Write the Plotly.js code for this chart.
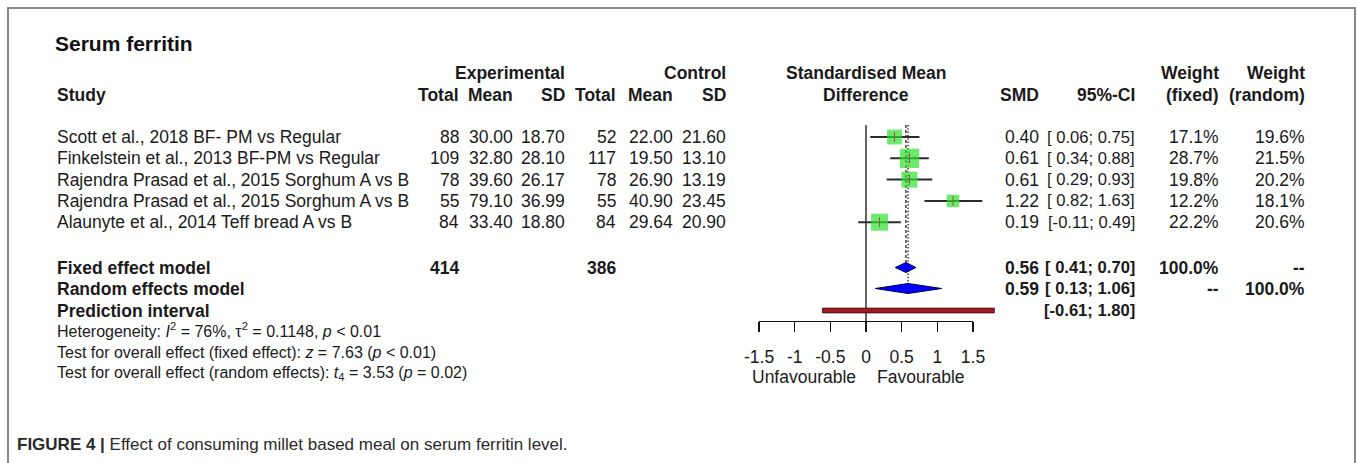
<!DOCTYPE html>
<html><head><meta charset="utf-8">
<script src="https://cdn.plot.ly/plotly-3.0.1.min.js"></script>
<style>html,body{margin:0;padding:0;background:#fff;}#chart{width:1357px;height:463px;}</style>
</head><body><div id="chart"></div>
<script>
// ---------- data ----------
const studies = [
  "Scott et al., 2018 BF- PM vs Regular",
  "Finkelstein et al., 2013 BF-PM vs Regular",
  "Rajendra Prasad et al., 2015 Sorghum A vs B",
  "Rajendra Prasad et al., 2015 Sorghum A vs B",
  "Alaunyte et al., 2014 Teff bread A vs B"
];
const expTotal = [88, 109, 78, 55, 84];
const expMean  = [30.00, 32.80, 39.60, 79.10, 33.40];
const expSD    = [18.70, 28.10, 26.17, 36.99, 18.80];
const ctlTotal = [52, 117, 78, 55, 84];
const ctlMean  = [22.00, 19.50, 26.90, 40.90, 29.64];
const ctlSD    = [21.60, 13.10, 13.19, 23.45, 20.90];
const smd      = [0.40, 0.61, 0.61, 1.22, 0.19];
const ciLow    = [0.06, 0.34, 0.29, 0.82, -0.11];
const ciHigh   = [0.75, 0.88, 0.93, 1.63, 0.49];
const wFixed   = [17.1, 28.7, 19.8, 12.2, 22.2];
const wRandom  = [19.6, 21.5, 20.2, 18.1, 20.6];
const totalExp = 414, totalCtl = 386;
const fixedEst = 0.56, fixedLow = 0.41, fixedHigh = 0.70;
const randomEst = 0.59, randomLow = 0.13, randomHigh = 1.06;
const predLow = -0.61, predHigh = 1.80;
const tickVals = [-1.5, -1, -0.5, 0, 0.5, 1, 1.5];
const tickText = ["-1.5", "-1", "-0.5", "0", "0.5", "1", "1.5"];

// ---------- geometry ----------
const W = 1357, H = 463;
const X0PX = 866, PXU = 71.3;
const ROW0 = 137, ROWPX = 21.3;
const px = p => p / W;
const row = p => (p - ROW0) / ROWPX;
const xRange = [(0 - X0PX) / PXU, (W - X0PX) / PXU];
const yRange = [(H - ROW0) / ROWPX, (0 - ROW0) / ROWPX];
const studyRows = studies.map((_, i) => i);
const fixedRow = row(267.5), randomRow = row(288.5), predRow = row(310.5);
const topLine = row(125), axisPx = 321;
const dH = 5 / ROWPX, pH = 2.4 / ROWPX;

const FONT = "Liberation Sans, Arial, sans-serif";
const FS = 17.5, TXT = "#1a1a1a";
const ann = [];
function T(text, xp, r, anchor, extra) {
  ann.push(Object.assign({
    text: text, xref: "paper", yref: "y", x: px(xp), y: r,
    xanchor: anchor, yanchor: "middle", showarrow: false,
    font: {family: FONT, size: FS, color: TXT}
  }, extra || {}));
}
const f2 = v => v.toFixed(2);
const ci = (l, h) => "[" + (l < 0 ? "" : " ") + f2(l) + "; " + f2(h) + "]";
const ciFont = {font: {family: FONT, size: 16.6, color: TXT}};

// columns (right edges, px)
const C = {study: 55, eT: 461, eM: 515, eS: 567, cT: 618, cM: 675, cS: 728,
           smd: 1041, ci: 1137, wf: 1221, wr: 1307, forest: 866};
const h1 = row(73), h2 = row(95);
T("<b>Experimental</b>", C.eS, h1, "right");
T("<b>Control</b>", C.cS, h1, "right");
T("<b>Standardised Mean</b>", C.forest, h1, "center");
T("<b>Weight</b>", C.wf, h1, "right");
T("<b>Weight</b>", C.wr, h1, "right");
T("<b>Study</b>", C.study, h2, "left");
T("<b>Total</b>", C.eT, h2, "right");
T("<b>Mean</b>", C.eM, h2, "right");
T("<b>SD</b>", C.eS, h2, "right");
T("<b>Total</b>", C.cT, h2, "right");
T("<b>Mean</b>", C.cM, h2, "right");
T("<b>SD</b>", C.cS, h2, "right");
T("<b>Difference</b>", C.forest, h2, "center");
T("<b>SMD</b>", C.smd, h2, "right");
T("<b>95%-CI</b>", C.ci, h2, "right");
T("<b>(fixed)</b>", C.wf, h2, "right");
T("<b>(random)</b>", C.wr, h2, "right");

studies.forEach((s, i) => {
  const r = studyRows[i];
  T(s, C.study, r, "left");
  T(String(expTotal[i]), C.eT, r, "right");
  T(f2(expMean[i]), C.eM, r, "right");
  T(f2(expSD[i]), C.eS, r, "right");
  T(String(ctlTotal[i]), C.cT, r, "right");
  T(f2(ctlMean[i]), C.cM, r, "right");
  T(f2(ctlSD[i]), C.cS, r, "right");
  T(f2(smd[i]), C.smd, r, "right");
  T(ci(ciLow[i], ciHigh[i]), C.ci, r, "right", ciFont);
  T(wFixed[i].toFixed(1) + "%", C.wf, r, "right");
  T(wRandom[i].toFixed(1) + "%", C.wr, r, "right");
});

T("<b>Fixed effect model</b>", C.study, fixedRow, "left");
T("<b>" + totalExp + "</b>", C.eT, fixedRow, "right");
T("<b>" + totalCtl + "</b>", C.cT, fixedRow, "right");
T("<b>" + f2(fixedEst) + "</b>", C.smd, fixedRow, "right");
T("<b>" + ci(fixedLow, fixedHigh) + "</b>", C.ci, fixedRow, "right", ciFont);
T("<b>100.0%</b>", C.wf, fixedRow, "right");
T("<b>--</b>", C.wr, fixedRow, "right");
T("<b>Random effects model</b>", C.study, randomRow, "left");
T("<b>" + f2(randomEst) + "</b>", C.smd, randomRow, "right");
T("<b>" + ci(randomLow, randomHigh) + "</b>", C.ci, randomRow, "right", ciFont);
T("<b>--</b>", C.wf, randomRow, "right");
T("<b>100.0%</b>", C.wr, randomRow, "right");
T("<b>Prediction interval</b>", C.study, predRow, "left");
T("<b>" + ci(predLow, predHigh) + "</b>", C.ci, predRow, "right", ciFont);

const small = {font: {family: FONT, size: 16, color: TXT}};
T("Heterogeneity: <i>I</i><sup>2</sup> = 76%, τ<sup>2</sup> = 0.1148, <i>p</i> &lt; 0.01", C.study, row(330), "left", small);
T("Test for overall effect (fixed effect): <i>z</i> = 7.63 (<i>p</i> &lt; 0.01)", C.study, row(352), "left", small);
T("Test for overall effect (random effects): <i>t</i><sub>4</sub> = 3.53 (<i>p</i> = 0.02)", C.study, row(373), "left", small);

T("Unfavourable", 858, row(377), "right");
T("Favourable", 875, row(377), "left");

T("<b>FIGURE 4 |</b> Effect of consuming millet based meal on serum ferritin level.", 15, row(444), "left",
  {font: {family: "Liberation Sans Narrow, Arial Narrow, Liberation Sans, sans-serif", size: 17, color: "#2a2a2a"}});

// ---------- traces ----------
const ciX = [], ciY = [];
studies.forEach((_, i) => { ciX.push(ciLow[i], ciHigh[i], null); ciY.push(studyRows[i], studyRows[i], null); });

function diamond(lo, est, hi, r) {
  return {x: [lo, est, hi, est, lo], y: [r, r - dH, r, r + dH, r]};
}
const dF = diamond(fixedLow, fixedEst, fixedHigh, fixedRow);
const dR = diamond(randomLow, randomEst, randomHigh, randomRow);

const traces = [
  {x: [0, 0], y: [topLine, row(axisPx)], mode: "lines", line: {color: "#111", width: 1.3}, hoverinfo: "skip"},
  {x: [fixedEst, fixedEst], y: [topLine, fixedRow - dH], mode: "lines", line: {color: "#222", width: 1.3, dash: "3px,2px"}, hoverinfo: "skip"},
  {x: [randomEst, randomEst], y: [topLine, randomRow - dH], mode: "lines", line: {color: "#222", width: 1.3, dash: "1.5px,1.8px"}, hoverinfo: "skip"},
  {x: ciX, y: ciY, mode: "lines", line: {color: "#2b2b2b", width: 2}, hoverinfo: "skip", connectgaps: false},
  {x: smd, y: studyRows, mode: "markers", hoverinfo: "skip",
   marker: {symbol: "square", color: "#30e030", size: wFixed.map(w => 3.6 * Math.sqrt(w)), line: {width: 0}}},
  {x: smd, y: studyRows, mode: "markers", hoverinfo: "skip",
   marker: {symbol: "line-ns-open", size: 7, line: {color: "#111", width: 1}}},
  {x: dF.x, y: dF.y, mode: "lines", fill: "toself", fillcolor: "#0000ff", line: {color: "#000044", width: 1}, hoverinfo: "skip"},
  {x: dR.x, y: dR.y, mode: "lines", fill: "toself", fillcolor: "#0000ff", line: {color: "#000044", width: 1}, hoverinfo: "skip"},
  {x: [predLow, predHigh, predHigh, predLow, predLow], y: [predRow - pH, predRow - pH, predRow + pH, predRow + pH, predRow - pH],
   mode: "lines", fill: "toself", fillcolor: "#a01c22", line: {color: "#3a0a0a", width: 0.8}, hoverinfo: "skip"},
  {x: [0], y: [yRange[0] + 5], xaxis: "x2", yaxis: "y", mode: "markers", marker: {opacity: 0}, hoverinfo: "skip"}
];

const layout = {
  width: W, height: H, margin: {l: 0, r: 0, t: 0, b: 0, pad: 0},
  paper_bgcolor: "#fff", plot_bgcolor: "rgba(0,0,0,0)", showlegend: false,
  font: {family: FONT, color: TXT},
  title: {text: "<b>Serum ferritin</b>", x: px(55), xanchor: "left", xref: "paper",
          y: 1 - 44 / H, yanchor: "middle", yref: "container", font: {family: FONT, size: 21, color: "#111"}},
  xaxis: {range: xRange, visible: false, fixedrange: true},
  yaxis: {range: yRange, visible: false, fixedrange: true},
  xaxis2: {domain: [px(X0PX - 1.5 * PXU), px(X0PX + 1.5 * PXU)], range: [-1.5, 1.5], anchor: "free",
           position: 1 - axisPx / H, showline: true, linecolor: "#111", linewidth: 1.3,
           ticks: "outside", ticklen: 10, tickwidth: 1.3, tickcolor: "#111",
           tickmode: "array", tickvals: tickVals, ticktext: tickText, ticklabelstandoff: 10,
           tickfont: {family: FONT, size: FS, color: TXT}, showgrid: false, zeroline: false, fixedrange: true},
  shapes: [{type: "rect", xref: "paper", yref: "paper", x0: px(8), x1: px(1355), y0: -0.05, y1: 1 - 8 / H,
            line: {color: "#8a8a8a", width: 2}, fillcolor: "rgba(0,0,0,0)"}],
  annotations: ann
};
Plotly.newPlot("chart", traces, layout, {staticPlot: true, displayModeBar: false});
</script></body></html>
